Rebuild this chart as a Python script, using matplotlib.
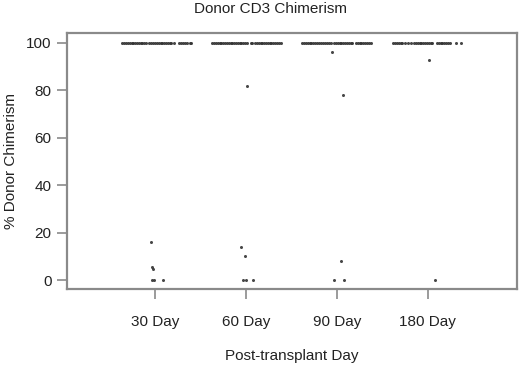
import matplotlib
matplotlib.use("Agg")
import matplotlib.pyplot as plt
import numpy as np

plt.rcParams['font.family'] = ['Liberation Sans', 'DejaVu Sans']

categories = ["30 Day", "60 Day", "90 Day", "180 Day"]
yticks = [0, 20, 40, 60, 80, 100]

# horizontal jitter offsets and values for each group
jit_30 = [-0.36, -0.34, -0.32, -0.30, -0.28, -0.26, -0.24, -0.22, -0.20, -0.18, -0.16, -0.14,
          -0.12, -0.10, -0.07, -0.05, -0.02, 0.00, 0.02, 0.04, 0.06, 0.08, 0.10, 0.12, 0.14,
          0.16, 0.18, 0.21, 0.26, 0.28, 0.31, 0.33, 0.35, 0.38, 0.40,
          -0.05, -0.04, -0.02, -0.03, -0.01, 0.09]
val_30 = [100] * 35 + [16, 5.5, 4.5, 0, 0, 0]

jit_60 = [-0.37, -0.35, -0.33, -0.31, -0.29, -0.27, -0.25, -0.23, -0.21, -0.19, -0.17, -0.15,
          -0.13, -0.11, -0.09, -0.07, -0.05, -0.03, -0.01, 0.01, 0.05, 0.07, 0.10, 0.12, 0.14,
          0.16, 0.18, 0.20, 0.22, 0.24, 0.26, 0.28, 0.30, 0.32, 0.34, 0.36, 0.38,
          0.01, -0.05, -0.01, -0.03, 0.00, 0.08]
val_60 = [100] * 37 + [82, 14, 10, 0, 0, 0]

jit_90 = [-0.38, -0.36, -0.34, -0.32, -0.30, -0.28, -0.26, -0.24, -0.22, -0.20, -0.17, -0.15,
          -0.13, -0.11, -0.09, -0.07, -0.03, -0.01, 0.01, 0.03, 0.05, 0.07, 0.09, 0.11, 0.13,
          0.15, 0.17, 0.21, 0.23, 0.25, 0.27, 0.29, 0.31, 0.33, 0.35, 0.37,
          -0.05, 0.07, 0.04, -0.03, 0.08]
val_90 = [100] * 36 + [96, 78, 8, 0, 0]

jit_180 = [-0.38, -0.36, -0.34, -0.32, -0.30, -0.28, -0.25, -0.22, -0.19, -0.15, -0.13, -0.11,
           -0.09, -0.07, -0.05, -0.03, -0.01, 0.01, 0.03, 0.05, 0.10, 0.12, 0.14, 0.16, 0.18,
           0.20, 0.22, 0.24, 0.31, 0.36,
           0.01, 0.08]
val_180 = [100] * 30 + [93, 0]

groups = [(jit_30, val_30), (jit_60, val_60), (jit_90, val_90), (jit_180, val_180)]

fig = plt.figure(figsize=(5.2, 3.65), dpi=100)
ax = fig.add_axes([0.1288, 0.208, 0.994 - 0.1288, 0.9096 - 0.208])

for i, (jit, val) in enumerate(groups):
    x = i + 1 + np.asarray(jit)
    ax.plot(x, val, 'o', ms=2.2, color='#333333', mec='none', alpha=0.9)

ax.set_xlim(0.03, 4.98)
ax.set_ylim(-3.8, 104.2)
ax.set_xticks(range(1, len(categories) + 1))
ax.set_xticklabels(categories)
ax.set_yticks(yticks)

axis_col = '#8a8a8a'
for s in ax.spines.values():
    s.set_color(axis_col)
    s.set_linewidth(1.6)
ax.tick_params(axis='both', colors=axis_col, length=7, width=1.2, labelsize=11,
               labelcolor='#222222')
ax.tick_params(axis='x', pad=12)
ax.tick_params(axis='y', pad=4)

ax.set_xlabel("Post-transplant Day", fontsize=11, color='#222222', labelpad=14)
ax.set_ylabel("% Donor Chimerism", fontsize=11, color='#222222', labelpad=6)
fig.text(0.52, 0.995, "Donor CD3 Chimerism", ha='center', va='top', fontsize=11,
         color='#222222')

fig.savefig("out.png", dpi=100)
